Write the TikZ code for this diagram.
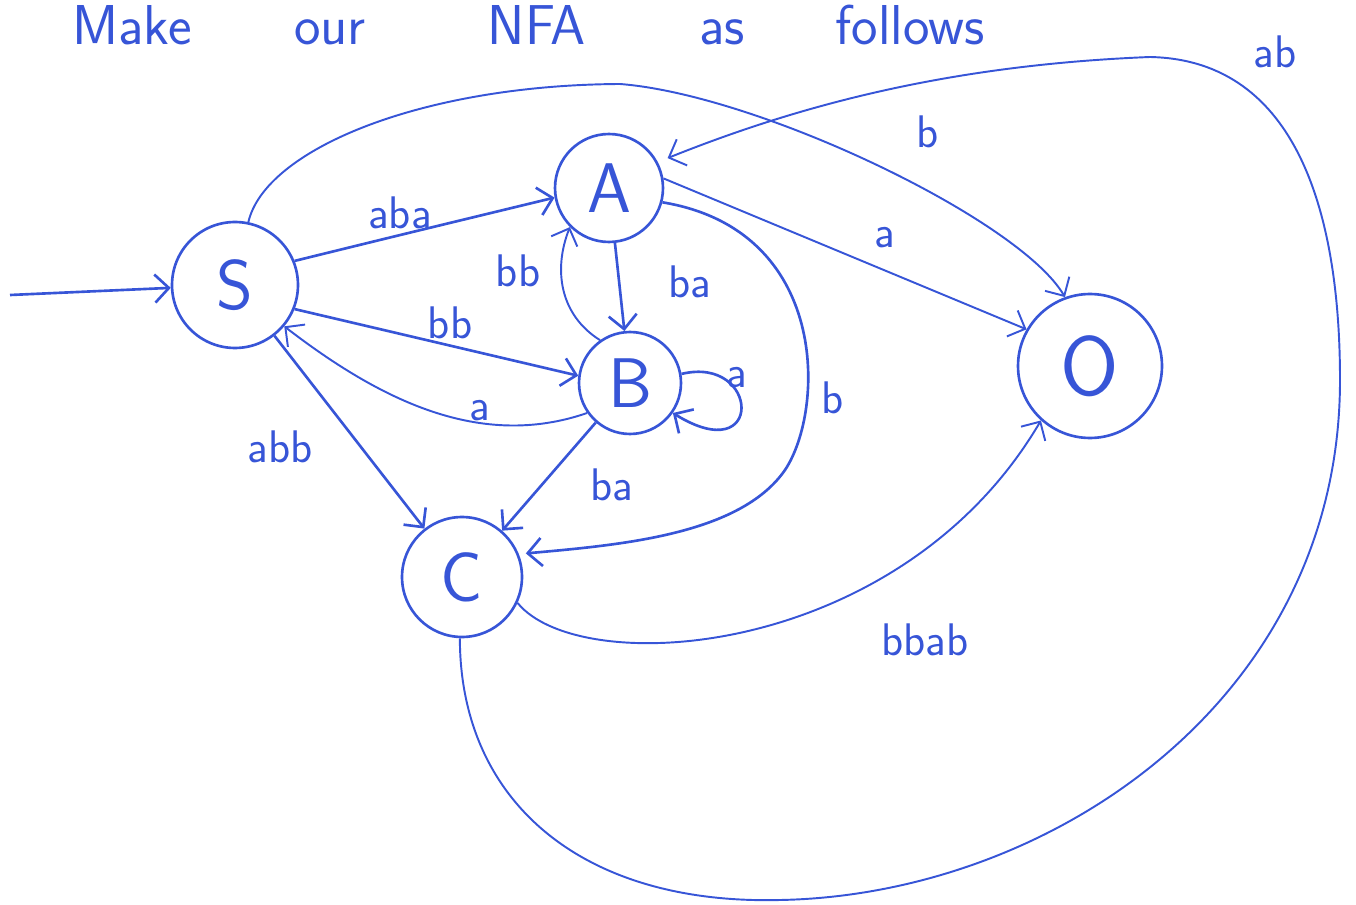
\documentclass[tikz,border=0pt]{standalone}
\usetikzlibrary{arrows.meta}
\definecolor{hand}{RGB}{55,85,215}
\begin{document}
\begin{tikzpicture}[x=0.02cm,y=-0.02cm,
  st/.style={circle,draw=hand,line width=1.5pt,inner sep=0pt,text=hand,font=\sffamily\fontsize{40}{44}\selectfont},
  lbl/.style={text=hand,font=\sffamily\fontsize{26}{30}\selectfont,inner sep=0pt},
  ttl/.style={text=hand,font=\sffamily\fontsize{32}{36}\selectfont,inner sep=0pt,anchor=base},
  arr/.style={draw=hand,line width=1.5pt,-{Straight Barb[length=8pt,width=16pt]}},
  thinarr/.style={arr,line width=1.1pt}]
\useasboundingbox (0,0) rectangle (1356,905);

% title
\node[ttl] (t1) at (132,45) {Make};
\node[ttl] (t2) at (330,45) {our};
\node[ttl] (t3) at (537,45) {NFA};
\node[ttl] (t4) at (722,45) {as};
\node[ttl] (t5) at (910,45) {follows};

% states
\node[st,minimum size=2.52cm] (S) at (235,285) {S};
\node[st,minimum size=2.16cm] (A) at (609,188) {A};
\node[st,minimum size=2.04cm] (B) at (630,383) {B};
\node[st,minimum size=2.4cm] (C) at (462,577) {C};
\node[st,minimum size=2.88cm,font=\sffamily\fontsize{48}{52}\selectfont] (O) at (1090,366) {O};

% start
\coordinate (st) at (10,295);
\draw[arr] (st) -- (S);

% S -> A
\draw[arr] (S.22) .. controls (400,235) .. (A.190);
\node[lbl] (l1) at (400,213) {aba};

% S -> O
\draw[thinarr] (S.78) .. controls (265,150) and (420,85) .. (620,84)
  .. controls (760,95) and (1020,220) .. (O.110);
\node[lbl] (l2) at (928,132) {b};

% A -> O
\draw[thinarr] (A.10) -- (O.150);
\node[lbl] (l3) at (885,238) {a};

% A -> B
\draw[arr] (A) -- (B);
\node[lbl] (l4) at (690,282) {ba};

% B -> A
\draw[thinarr] (B.125) .. controls (560,315) and (553,270) .. (A.225);
\node[lbl] (l5) at (518,271) {bb};

% S -> B
\draw[arr] (S.-22) -- (B.172);
\node[lbl] (l6) at (450,323) {bb};

% B -> S
\draw[thinarr] (B.215) .. controls (480,450) and (380,400) .. (S.-40);
\node[lbl] (l7) at (480,411) {a};

% B loop
\draw[arr] (B.10) .. controls (760,355) and (765,470) .. (B.-35);
\node[lbl] (l8) at (737,378) {a};

% A -> C
\draw[arr,shorten >=4pt] (A.-15) .. controls (830,230) and (825,410) .. (785,470)
  .. controls (740,535) and (620,545) .. (C.22);
\node[lbl] (l9) at (833,398) {b};

% B -> C
\draw[arr] (B) -- (C);
\node[lbl] (l10) at (612,485) {ba};

% S -> C
\draw[arr] (S) -- (C);
\node[lbl] (l11) at (280,447) {abb};

% C -> O
\draw[thinarr] (C.-25) .. controls (580,680) and (900,660) .. (O.-132);
\node[lbl] (l12) at (925,640) {bbab};

% C -> A
\draw[thinarr,shorten >=6pt] (C.-92) .. controls (460,800) and (580,905) .. (780,900)
  .. controls (1050,895) and (1340,700) .. (1340,380)
  .. controls (1340,220) and (1300,60) .. (1150,57)
  .. controls (950,65) and (800,105) .. (A.28);
\node[lbl] (l13) at (1275,52) {ab};
\end{tikzpicture}
\end{document}
